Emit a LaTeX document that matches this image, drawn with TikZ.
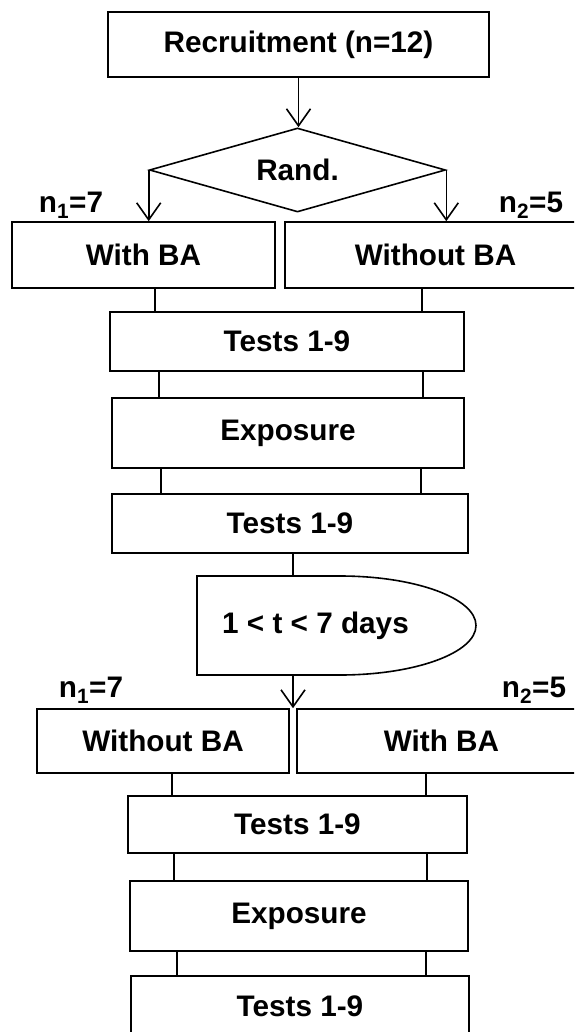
\documentclass[tikz,border=0pt]{standalone}
\usepackage{fontspec}
\setmainfont{Liberation Sans}
\usetikzlibrary{shapes.geometric}
\usetikzlibrary{arrows.meta}

\begin{document}
\begin{tikzpicture}[x=1pt,y=-1pt,line width=1.6pt,
  every node/.style={font=\fontsize{29.7}{34}\selectfont\bfseries},
  box/.style={draw,inner sep=0pt},
  arr/.style={-{Straight Barb[length=17pt,width=24pt]}}]
  \useasboundingbox (0,0) rectangle (574,1032);
  \clip (0,0) rectangle (574,1032);
  % first period
  \node[box,minimum width=381,minimum height=65] (rec) at (298.5,44.5) {Recruitment (n=12)};
  \node[box,diamond,aspect=3.5,minimum width=296,minimum height=84] (rand) at (297.5,170) {Rand.};
  \node[box,minimum width=263,minimum height=66] (withA) at (143.5,255) {With BA};
  \node[box,minimum width=301,minimum height=66] (withoutA) at (435.5,255) {Without BA};
  \node (n1a) at (71,205) {n\textsubscript{1}=7};
  \node (n2a) at (531,205) {n\textsubscript{2}=5};
  \node[box,minimum width=354,minimum height=59] (tests1) at (287,341.5) {Tests 1-9};
  \node[box,minimum width=352,minimum height=70] (expo1) at (288,433) {Exposure};
  \node[box,minimum width=356,minimum height=59] (tests2) at (290,523.5) {Tests 1-9};
  % wash-out
  \node (delay) at (315.5,625.5) {1 < t < 7 days};
  \draw (197,576) -- (340,576) arc[start angle=-90,end angle=90,x radius=136,y radius=49.5] -- (197,675) -- cycle;
  \coordinate (dtop) at (293,576);
  \coordinate (dbot) at (293,675);
  % second period
  \node[box,minimum width=252,minimum height=64] (woA2) at (163,741) {Without BA};
  \node[box,minimum width=289,minimum height=64] (wA2) at (441.5,741) {With BA};
  \node (n1b) at (91,690.5) {n\textsubscript{1}=7};
  \node (n2b) at (534,690.5) {n\textsubscript{2}=5};
  \node[box,minimum width=339,minimum height=57] (tests3) at (297.5,824.5) {Tests 1-9};
  \node[box,minimum width=338,minimum height=70] (expo2) at (299,916) {Exposure};
  \node[box,minimum width=338,minimum height=60] (tests4) at (300,1006) {Tests 1-9};
  % connectors
  \draw[arr] (rec.south) -- (rec.south |- rand.north);
  \draw[arr] (rand.west) -- (rand.west |- withA.north);
  \draw[arr] (rand.east) -- (rand.east |- withoutA.north);
  \foreach \a/\b/\x in {withA/tests1/155, withoutA/tests1/422, tests1/expo1/159, tests1/expo1/423,
      expo1/tests2/161, expo1/tests2/421, woA2/tests3/172, wA2/tests3/426,
      tests3/expo2/174, tests3/expo2/427, expo2/tests4/177, expo2/tests4/426}
    \draw (\a.south -| \x,0) -- (\b.north -| \x,0);
  \draw (tests2.south -| dtop) -- (dtop);
  \draw[arr] (dbot) -- (dbot |- woA2.north);
\end{tikzpicture}
\end{document}
